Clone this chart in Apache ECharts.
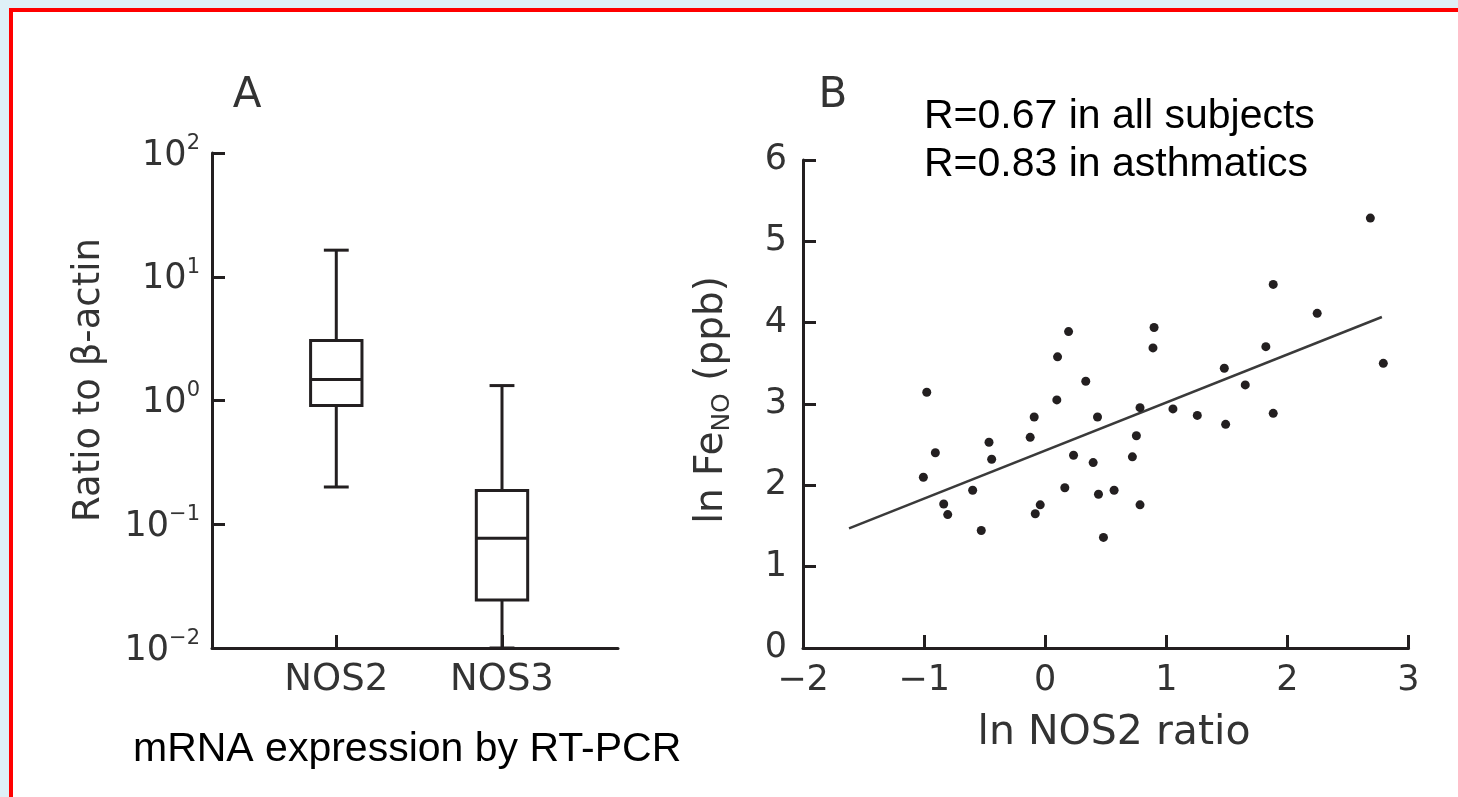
<!DOCTYPE html>
<html>
<head>
<meta charset="utf-8">
<script src="https://cdn.jsdelivr.net/npm/echarts@6/dist/echarts.min.js"></script>
<style>
  html, body { margin: 0; padding: 0; width: 1458px; height: 797px; overflow: hidden; background: #dff0f7; }
  #frame { position: absolute; left: 9px; top: 8px; width: 1460px; height: 800px; background: #ffffff;
           border-left: 4px solid #ff0000; border-top: 4px solid #ff0000; }
  #chart { position: absolute; left: 0; top: 0; width: 1458px; height: 797px; }
</style>
</head>
<body>
<div id="frame"></div>
<div id="chart"></div>
<script>
// ---------- Panel A: box plot data (ratio to beta-actin, log scale) ----------
const boxCategories = ['NOS2', 'NOS3'];
const boxMin    = [0.20, 0.010];
const boxQ1     = [0.91, 0.0244];
const boxMedian = [1.48, 0.077];
const boxQ3     = [3.05, 0.187];
const boxMax    = [16.4, 1.32];
const logTicks  = [0.01, 0.1, 1, 10, 100];

// ---------- Panel B: scatter data (ln NOS2 ratio vs ln FeNO) ----------
const scatterX = [-0.978, 0.193, 0.102, 0.335, 0.096, -0.091, 0.432, -0.464, -0.907, -0.124,
                  -0.442, -1.006, 0.234, 0.396, 0.720, -0.599, 0.162, 0.440, 0.569, -0.838,
                  -0.805, -0.041, -0.082, -0.528, 0.481, 2.685, 1.883, 2.246, 0.899, 0.890,
                  1.822, 2.792, 1.479, 1.652, 0.783, 1.055, 1.256, 1.490, 1.883, 0.753, 0.783];
const scatterY = [3.145, 3.89, 3.58, 3.28, 3.05, 2.84, 2.84, 2.53, 2.40, 2.59,
                  2.32, 2.10, 2.37, 2.28, 2.35, 1.94, 1.97, 1.89, 1.94, 1.77,
                  1.64, 1.76, 1.65, 1.445, 1.36, 5.286, 4.47, 4.115, 3.94, 3.69,
                  3.705, 3.50, 3.44, 3.235, 2.955, 2.94, 2.86, 2.75, 2.885, 2.61, 1.76];
const fitX = [-1.62, 2.78];
const fitY = [1.47, 4.07];
const xTicksB = [-2, -1, 0, 1, 2, 3];
const yTicksB = [0, 1, 2, 3, 4, 5, 6];

const INK = '#231f20';
const LABEL = '#333333';
const GFONT = 'DejaVu Sans';

const boxData = boxCategories.map((c, i) => [i + 1, boxMin[i], boxQ1[i], boxMedian[i], boxQ3[i], boxMax[i]]);
const scatterData = scatterX.map((x, i) => [x, scatterY[i]]);
const fitData = fitX.map((x, i) => [x, fitY[i]]);

function renderBox(params, api) {
  const x = api.value(0);
  const pMin = api.coord([x, api.value(1)]);
  const pQ1 = api.coord([x, api.value(2)]);
  const pMed = api.coord([x, api.value(3)]);
  const pQ3 = api.coord([x, api.value(4)]);
  const pMax = api.coord([x, api.value(5)]);
  const hb = api.size([0.31, 0])[0] / 2;
  const hc = api.size([0.15, 0])[0] / 2;
  const cx = pMed[0];
  const st = { stroke: INK, lineWidth: 3, fill: null };
  return {
    type: 'group',
    children: [
      { type: 'rect', shape: { x: cx - hb, y: pQ3[1], width: 2 * hb, height: pQ1[1] - pQ3[1] }, style: { stroke: INK, lineWidth: 3, fill: '#ffffff' } },
      { type: 'line', shape: { x1: cx - hb, y1: pMed[1], x2: cx + hb, y2: pMed[1] }, style: st },
      { type: 'line', shape: { x1: cx, y1: pQ3[1], x2: cx, y2: pMax[1] }, style: st },
      { type: 'line', shape: { x1: cx, y1: pQ1[1], x2: cx, y2: pMin[1] }, style: st },
      { type: 'line', shape: { x1: cx - hc, y1: pMax[1], x2: cx + hc, y2: pMax[1] }, style: st },
      { type: 'line', shape: { x1: cx - hc, y1: pMin[1], x2: cx + hc, y2: pMin[1] }, style: st }
    ]
  };
}

const axisLineStyle = { show: true, onZero: false, lineStyle: { color: INK, width: 3 } };
const tickStyle = { show: true, inside: true, length: 13, lineStyle: { color: INK, width: 3 } };

const chart = echarts.init(document.getElementById('chart'), null, { renderer: 'canvas' });
chart.setOption({
  animation: false,
  backgroundColor: 'transparent',
  grid: [
    { left: 212, top: 153, width: 406, height: 495, outerBoundsMode: 'none' },
    { left: 803, top: 160, width: 605.5, height: 488, outerBoundsMode: 'none' }
  ],
  xAxis: [
    {
      gridIndex: 0, type: 'value', min: 0.25, max: 2.7,
      axisLine: axisLineStyle,
      axisTick: Object.assign({}, tickStyle, { customValues: boxCategories.map((c, i) => i + 1) }),
      axisLabel: {
        customValues: boxCategories.map((c, i) => i + 1),
        formatter: v => boxCategories[Math.round(v) - 1] || '',
        color: LABEL, fontFamily: GFONT, fontSize: 37, margin: 14
      },
      splitLine: { show: false }
    },
    {
      gridIndex: 1, type: 'value', min: xTicksB[0], max: xTicksB[xTicksB.length - 1], interval: 1,
      axisLine: axisLineStyle, axisTick: tickStyle,
      axisLabel: {
        formatter: v => (v < 0 ? '\u2212' + Math.abs(v) : String(v)),
        color: LABEL, fontFamily: GFONT, fontSize: 35, margin: 15
      },
      splitLine: { show: false }
    }
  ],
  yAxis: [
    {
      gridIndex: 0, type: 'log', logBase: 10, min: logTicks[0], max: logTicks[logTicks.length - 1],
      axisLine: axisLineStyle, axisTick: tickStyle, minorTick: { show: false },
      axisLabel: {
        formatter: v => {
          const e = Math.round(Math.log10(v));
          return '{b|10}{s|' + (e < 0 ? '\u2212' + Math.abs(e) : e) + '}';
        },
        margin: 12,
        rich: {
          b: { color: LABEL, fontFamily: GFONT, fontSize: 35, lineHeight: 40, verticalAlign: 'bottom' },
          s: { color: LABEL, fontFamily: GFONT, fontSize: 21, lineHeight: 40, verticalAlign: 'top' }
        }
      },
      splitLine: { show: false }
    },
    {
      gridIndex: 1, type: 'value', min: yTicksB[0], max: yTicksB[yTicksB.length - 1], interval: 1,
      axisLine: axisLineStyle, axisTick: tickStyle,
      axisLabel: { color: LABEL, fontFamily: GFONT, fontSize: 35, margin: 16 },
      splitLine: { show: false }
    }
  ],
  series: [
    {
      type: 'custom', xAxisIndex: 0, yAxisIndex: 0, data: boxData,
      encode: { x: 0, y: [1, 2, 3, 4, 5] },
      renderItem: renderBox, z: 1
    },
    {
      type: 'line', xAxisIndex: 1, yAxisIndex: 1, data: fitData,
      showSymbol: false, symbol: 'none',
      lineStyle: { color: '#3a3a3a', width: 2.5 }, z: 2
    },
    {
      type: 'scatter', xAxisIndex: 1, yAxisIndex: 1, data: scatterData,
      symbol: 'circle', symbolSize: 9, itemStyle: { color: INK, opacity: 1 }, z: 3
    }
  ],
  graphic: [
    { type: 'text', x: 247, y: 96, style: { text: 'A', font: '42px "DejaVu Sans"', fill: LABEL, align: 'center', verticalAlign: 'middle' } },
    { type: 'text', x: 833, y: 96, style: { text: 'B', font: '42px "DejaVu Sans"', fill: LABEL, align: 'center', verticalAlign: 'middle' } },
    { type: 'text', x: 89, y: 380, rotation: Math.PI / 2,
      style: { text: 'Ratio to β-actin', font: '37px "DejaVu Sans"', fill: LABEL, align: 'center', verticalAlign: 'middle' } },
    { type: 'text', x: 712, y: 400, rotation: Math.PI / 2,
      style: {
        text: '{n|ln Fe}{sub|NO}{n| (ppb)}', align: 'center', verticalAlign: 'middle',
        rich: {
          n: { fontFamily: GFONT, fontSize: 39, fill: LABEL, lineHeight: 46, verticalAlign: 'middle' },
          sub: { fontFamily: GFONT, fontSize: 25, fill: LABEL, lineHeight: 46, verticalAlign: 'bottom' }
        }
      } },
    { type: 'text', x: 1114, y: 733, style: { text: 'ln NOS2 ratio', font: '41px "DejaVu Sans"', fill: LABEL, align: 'center', verticalAlign: 'middle' } },
    { type: 'text', x: 924, y: 117, style: { text: 'R=0.67 in all subjects', font: '41px "Liberation Sans"', fill: '#000', align: 'left', verticalAlign: 'middle' } },
    { type: 'text', x: 924, y: 165, style: { text: 'R=0.83 in asthmatics', font: '41px "Liberation Sans"', fill: '#000', align: 'left', verticalAlign: 'middle' } },
    { type: 'text', x: 133, y: 750, style: { text: 'mRNA expression by RT-PCR', font: '41px "Liberation Sans"', fill: '#000', align: 'left', verticalAlign: 'middle' } }
  ]
});
</script>
</body>
</html>
